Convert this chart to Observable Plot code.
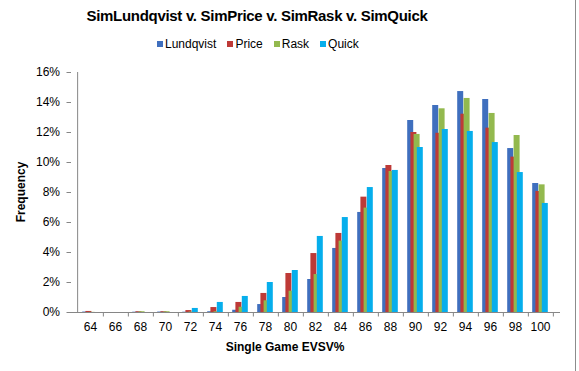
<!DOCTYPE html>
<html>
<head>
<meta charset="utf-8">
<script src="https://cdn.jsdelivr.net/npm/d3@7"></script>
<script src="https://cdn.jsdelivr.net/npm/@observablehq/plot@0.6"></script>
<style>
  body { margin: 0; background: #fff; }
  #wrap { position: relative; width: 579px; height: 371px; overflow: hidden; font-family: Arial, "Liberation Sans", sans-serif; color: #000; }
  .abs { position: absolute; white-space: nowrap; }
  #title { left: 257px; top: 7px; transform: translateX(-50%); font-size: 15px; letter-spacing: -0.3px; font-weight: bold; }
  #legend { left: 157px; top: 37px; font-size: 12px; display: flex; gap: 0; }
  #legend span.item { display: inline-flex; align-items: center; margin-right: 11px; }
  #legend i { display: inline-block; width: 6px; height: 6px; margin-right: 2px; }
  #xlabel { left: 285px; top: 340px; transform: translateX(-50%); font-size: 12px; font-weight: bold; }
  #ylabel { left: 21px; top: 192px; transform: translate(-50%, -50%) rotate(-90deg); font-size: 12px; font-weight: bold; }
  #border { position: absolute; left: 575px; top: 0; width: 1px; height: 371px; background: #8c8c8c; }
  #chart { position: absolute; left: 0; top: 60px; }
</style>
</head>
<body>
<div id="wrap">
  <div id="title" class="abs">SimLundqvist v. SimPrice v. SimRask v. SimQuick</div>
  <div id="legend" class="abs"></div>
  <div id="chart"></div>
  <div id="xlabel" class="abs">Single Game EVSV%</div>
  <div id="ylabel" class="abs">Frequency</div>
  <div id="border"></div>
</div>
<script>
const categories = [64, 66, 68, 70, 72, 74, 76, 78, 80, 82, 84, 86, 88, 90, 92, 94, 96, 98, 100];
const seriesNames = ["Lundqvist", "Price", "Rask", "Quick"];
const lundqvist = [0.03, 0, 0.02, 0.03, 0.02, 0.05, 0.15, 0.53, 1.0, 2.2, 4.27, 6.67, 9.6, 12.8, 13.8, 14.73, 14.2, 10.93, 8.6];
const price     = [0.07, 0, 0.05, 0.05, 0.13, 0.33, 0.67, 1.27, 2.6, 3.93, 5.27, 7.69, 9.8, 12.0, 11.95, 13.22, 12.29, 10.36, 8.07];
const rask      = [0.01, 0, 0.05, 0.05, 0.03, 0.05, 0.35, 0.78, 1.42, 2.53, 4.76, 6.96, 9.4, 11.87, 13.58, 14.27, 13.27, 11.8, 8.51];
const quick     = [0, 0, 0, 0, 0.27, 0.67, 1.07, 2.0, 2.8, 5.07, 6.33, 8.33, 9.47, 11.0, 12.2, 12.07, 11.33, 9.33, 7.27];
const yTicks = [0, 2, 4, 6, 8, 10, 12, 14, 16];

const colors = ["#3F6FBE", "#BE3A37", "#93B94E", "#06AEEC"];
const seriesValues = [lundqvist, price, rask, quick];

const width = 579, height = 290;
const marginLeft = 71, marginRight = 19;
const step = (width - marginLeft - marginRight) / categories.length;
const barOffset = 3.2;

const rows = seriesValues.map(vals => categories.map((c, i) => ({cat: c, value: vals[i]})));

const marks = [];
rows.forEach((data, s) => {
  marks.push(Plot.barY(data, {
    x: "cat", y: "value", fill: colors[s],
    dx: (s - 1.5) * barOffset
  }));
});
// category boundary ticks
marks.push(Plot.ruleX(categories, {x: d => d, dx: step / 2, y1: 0, y2: -0.3, stroke: "#868686"}));
// x axis baseline
marks.push(Plot.ruleY([0], {stroke: "#868686"}));
// y axis line
marks.push(Plot.ruleX([categories[0]], {x: d => d, dx: -step / 2, y1: 0, y2: 16, stroke: "#868686"}));
marks.push(Plot.axisY({ticks: yTicks, tickSize: 4.5, tickPadding: 7, tickFormat: d => d + "%", stroke: "#868686", fill: "#000", label: null, fontSize: 12}));
marks.push(Plot.axisX({tickSize: 0, tickPadding: 10, fill: "#000", label: null, fontSize: 12}));

const chart = Plot.plot({
  width, height,
  marginLeft, marginRight,
  marginTop: 12, marginBottom: 38,
  style: {fontFamily: 'Arial, "Liberation Sans", sans-serif', fontSize: "12px", color: "#000", background: "#fff"},
  x: {type: "band", domain: categories, paddingInner: 0.755, paddingOuter: 0.3775, align: 0.5},
  y: {domain: [0, 16]},
  marks
});
document.getElementById("chart").appendChild(chart);

const legend = document.getElementById("legend");
seriesNames.forEach((n, i) => {
  const s = document.createElement("span");
  s.className = "item";
  s.innerHTML = `<i style="background:${colors[i]}"></i>${n}`;
  legend.appendChild(s);
});
</script>
</body>
</html>
